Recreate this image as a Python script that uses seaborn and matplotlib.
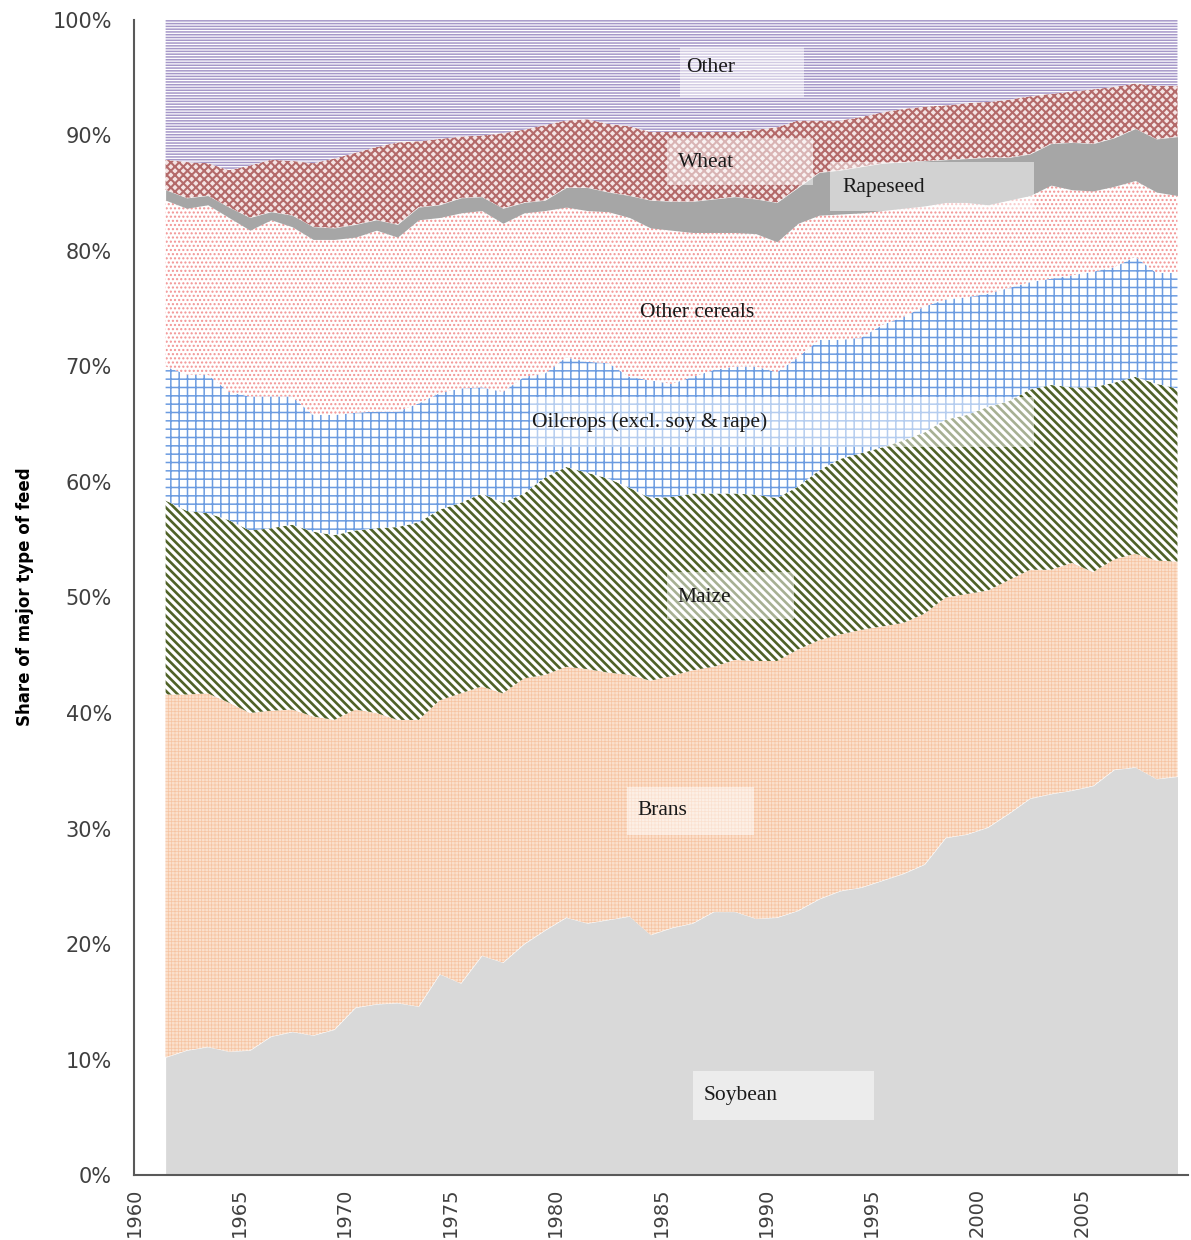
import numpy as np
import seaborn as sns
import matplotlib.pyplot as plt
from matplotlib.patches import Rectangle

years = np.arange(1961, 2010)

# top edge of each band (cumulative share in %)
soybean_top = [10.2, 10.8, 11.1, 10.7, 10.8, 12.0, 12.4, 12.1, 12.6, 14.5,
               14.8, 14.9, 14.6, 17.4, 16.6, 19.0, 18.4, 20.0, 21.2, 22.3,
               21.8, 22.1, 22.4, 20.8, 21.4, 21.8, 22.8, 22.8, 22.2, 22.3,
               22.9, 23.9, 24.6, 24.9, 25.5, 26.1, 26.9, 29.2, 29.5, 30.1,
               31.3, 32.6, 33.0, 33.3, 33.7, 35.1, 35.3, 34.3, 34.5]
brans_top = [41.6, 41.6, 41.7, 40.9, 40.0, 40.2, 40.3, 39.7, 39.4, 40.3,
             40.0, 39.4, 39.4, 41.1, 41.7, 42.3, 41.7, 43.0, 43.3, 44.0,
             43.8, 43.5, 43.3, 42.8, 43.2, 43.7, 44.0, 44.6, 44.5, 44.5,
             45.5, 46.3, 46.8, 47.2, 47.5, 47.8, 48.6, 50.0, 50.3, 50.6,
             51.5, 52.4, 52.4, 53.0, 52.2, 53.3, 53.8, 53.2, 53.1]
maize_top = [58.4, 57.5, 57.3, 56.7, 55.8, 56.0, 56.3, 55.7, 55.4, 55.8,
             56.0, 56.1, 56.5, 57.6, 58.2, 59.0, 58.2, 59.0, 60.4, 61.3,
             60.8, 60.3, 59.5, 58.6, 58.7, 59.0, 59.0, 59.0, 58.9, 58.6,
             59.6, 61.0, 62.0, 62.5, 63.0, 63.6, 64.3, 65.4, 65.8, 66.5,
             67.0, 68.0, 68.4, 68.2, 68.2, 68.6, 69.1, 68.5, 68.1]
oilcrops_top = [70.0, 69.3, 69.3, 67.8, 67.4, 67.4, 67.4, 65.8, 65.8, 66.0,
                66.1, 66.1, 66.8, 67.7, 68.1, 68.2, 67.8, 69.1, 69.4, 70.8,
                70.4, 70.3, 69.1, 68.8, 68.5, 69.1, 69.7, 70.0, 70.0, 69.5,
                70.8, 72.3, 72.3, 72.5, 73.6, 74.3, 75.2, 75.8, 76.0, 76.3,
                76.8, 77.3, 77.6, 77.9, 78.2, 78.6, 79.5, 78.1, 78.1]
cereals_top = [84.4, 83.7, 84.0, 82.9, 81.8, 82.7, 82.1, 81.0, 81.0, 81.2,
               81.8, 81.2, 82.7, 82.9, 83.3, 83.5, 82.4, 83.3, 83.5, 83.8,
               83.5, 83.4, 82.9, 82.0, 81.8, 81.6, 81.6, 81.6, 81.5, 80.8,
               82.4, 83.1, 83.2, 83.3, 83.5, 83.7, 83.9, 84.2, 84.2, 84.0,
               84.4, 84.8, 85.7, 85.3, 85.2, 85.6, 86.1, 85.1, 84.8]
rapeseed_top = [85.3, 84.6, 84.8, 83.8, 82.9, 83.4, 83.1, 82.1, 82.0, 82.3,
                82.7, 82.3, 83.8, 84.0, 84.6, 84.7, 83.7, 84.2, 84.4, 85.5,
                85.5, 85.1, 84.8, 84.4, 84.3, 84.3, 84.5, 84.7, 84.5, 84.2,
                85.5, 86.8, 87.0, 87.3, 87.6, 87.7, 87.8, 87.9, 88.0, 88.1,
                88.1, 88.4, 89.3, 89.4, 89.3, 89.8, 90.6, 89.7, 89.9]
wheat_top = [87.9, 87.7, 87.6, 87.0, 87.4, 87.9, 87.8, 87.6, 88.0, 88.5,
             89.0, 89.4, 89.5, 89.7, 89.9, 90.0, 90.2, 90.5, 90.9, 91.3,
             91.4, 91.0, 90.8, 90.3, 90.3, 90.3, 90.3, 90.3, 90.5, 90.7,
             91.3, 91.3, 91.3, 91.6, 92.0, 92.3, 92.5, 92.6, 92.8, 92.9,
             93.1, 93.4, 93.6, 93.8, 94.0, 94.2, 94.5, 94.3, 94.3]
other_top = [100.0] * len(years)

categories = ['Soybean', 'Brans', 'Maize', 'Oilcrops (excl. soy & rape)',
              'Other cereals', 'Rapeseed', 'Wheat', 'Other']
tops = [soybean_top, brans_top, maize_top, oilcrops_top,
        cereals_top, rapeseed_top, wheat_top, other_top]

# face colour, hatch, hatch colour, hatch width
styles = [
    ('#d9d9d9', None, '#d9d9d9', 1.0),
    ('#fbe0cc', '+++++', '#f6c4a2', 0.5),
    ('white', '\\\\\\\\', '#4f6228', 1.9),
    ('white', '++', '#6b9be0', 1.1),
    ('white', '....', '#f29494', 1.0),
    ('#a6a6a6', None, '#a6a6a6', 1.0),
    ('#f4e4e4', 'xxxx', '#b46a6a', 1.5),
    ('white', '------', '#a597c8', 1.1),
]

sns.set_style('white')
plt.rcParams['font.family'] = ['DejaVu Sans']

fig = plt.figure(figsize=(11.91, 12.40), dpi=100)
ax = fig.add_axes([0.1125, 0.0524, 0.8850, 0.9315])

x = years + 0.5
lower = np.zeros(len(years))
for name, top, (face, hatch, hcol, hlw) in zip(categories, tops, styles):
    top = np.asarray(top)
    with plt.rc_context({'hatch.linewidth': hlw, 'hatch.color': hcol}):
        coll = ax.fill_between(x, lower, top, facecolor=face, edgecolor=hcol,
                               hatch=hatch, linewidth=0, label=name)
    if hasattr(coll, 'set_hatch_linewidth'):
        coll.set_hatch_linewidth(hlw)
    lower = top

# label boxes (semi transparent, like the original)
labels = [
    ('Other', 1986.2, 95.9, (1985.9, 93.3, 5.9, 4.4)),
    ('Wheat', 1985.8, 87.7, (1985.3, 85.7, 6.9, 4.1)),
    ('Rapeseed', 1993.6, 85.5, (1993.0, 83.5, 9.7, 4.2)),
    ('Other cereals', 1984.0, 74.7, None),
    ('Oilcrops (excl. soy & rape)', 1978.9, 65.2, (1978.8, 63.0, 23.9, 4.4)),
    ('Maize', 1985.8, 50.0, (1985.3, 48.1, 6.0, 4.1)),
    ('Brans', 1983.9, 31.6, (1983.4, 29.4, 6.0, 4.2)),
    ('Soybean', 1987.0, 6.9, (1986.5, 4.8, 8.6, 4.2)),
]
for txt, tx, ty, box in labels:
    if box is not None:
        bx, by, bw, bh = box
        ax.add_patch(Rectangle((bx, by), bw, bh, facecolor='white',
                               alpha=0.5, linewidth=0, zorder=3))
    ax.text(tx, ty, txt, fontsize=15.5, family=['Liberation Serif'],
            color='#1a1a1a', ha='left', va='center', zorder=4)

ax.set_xlim(1960, 2010)
ax.set_ylim(0, 100)
ax.set_xticks(np.arange(1960, 2011, 5))
ax.set_xticklabels([str(y) if y < 2010 else '' for y in range(1960, 2011, 5)],
                   rotation=90)
ax.set_yticks(np.arange(0, 101, 10))
ax.set_yticklabels([f'{v}%' for v in range(0, 101, 10)])

sns.despine(ax=ax)
for side in ['left', 'bottom']:
    ax.spines[side].set_color('#595959')
    ax.spines[side].set_linewidth(1.5)
ax.tick_params(axis='both', direction='out', length=8, width=1.5,
               color='#595959', labelcolor='#404040')
ax.tick_params(axis='y', pad=8, labelsize=15)
ax.tick_params(axis='x', pad=1, labelsize=14)

fig.text(0.021, 0.519, 'Share of major type of feed', rotation=90,
         fontsize=12, fontweight='bold', family=['DejaVu Sans'],
         ha='center', va='center', color='black')

fig.savefig('out.png', dpi=100)
